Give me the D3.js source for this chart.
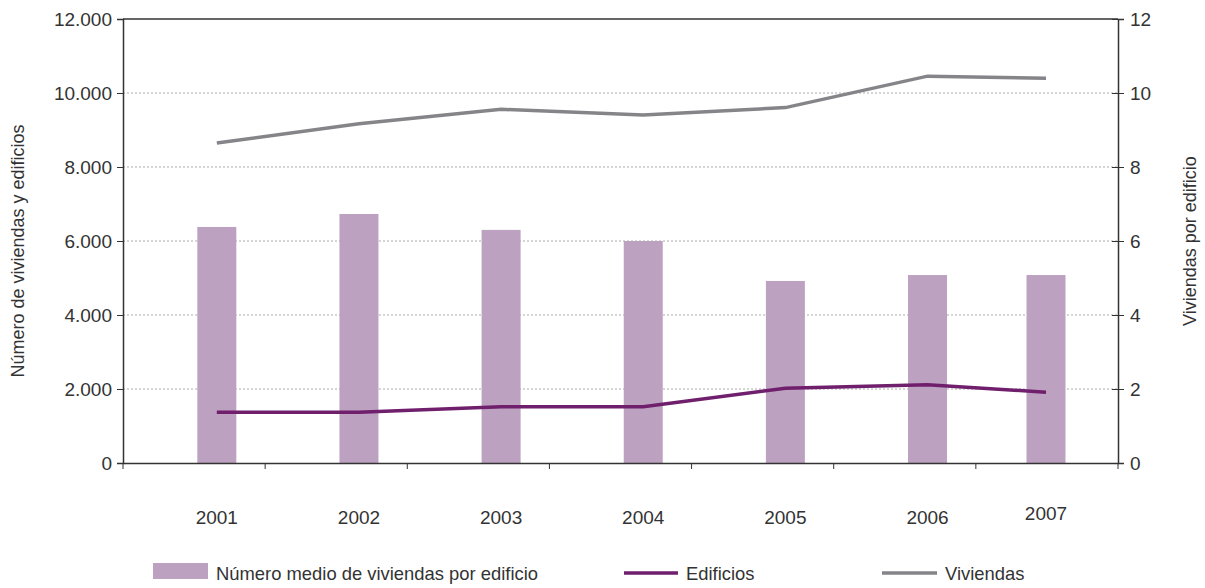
<!DOCTYPE html>
<html><head><meta charset="utf-8">
<script src="https://cdn.jsdelivr.net/npm/d3@7"></script>
<style>body{margin:0;background:#fff}svg{display:block}text{font-family:"Liberation Sans",Arial,sans-serif;fill:#333}</style>
</head><body>
<script>
const years = ["2001","2002","2003","2004","2005","2006","2007"];
const mediaViviendas = [6.38, 6.73, 6.30, 6.00, 4.92, 5.08, 5.08];
const edificios = [1375, 1375, 1520, 1520, 2020, 2115, 1915];
const viviendas = [8650, 9170, 9560, 9405, 9605, 10455, 10400];
const leftTicks = [0, 2000, 4000, 6000, 8000, 10000, 12000];
const rightTicks = [0, 2, 4, 6, 8, 10, 12];
const legendLabels = ["Número medio de viviendas por edificio", "Edificios", "Viviendas"];

const W = 1205, H = 588;
const x0 = 123, x1 = 1118, yTop = 19, yBot = 463;
const svg = d3.select("body").append("svg").attr("width", W).attr("height", H);

const xb = d3.scaleBand().domain(years).range([x0, x1]);
const yL = d3.scaleLinear().domain([0, 12000]).range([yBot, yTop]);
const yR = d3.scaleLinear().domain([0, 12]).range([yBot, yTop]);
const cx = d => Math.min(xb(d) + xb.bandwidth() * 0.66, x1 - 72);
const fmt = d3.formatLocale({decimal: ",", thousands: ".", grouping: [3], currency: ["", "€"]}).format(",d");

const colBar = "#bda1c1", colEd = "#6f1f6c", colViv = "#858488", axisCol = "#333";

// gridlines
svg.append("g").selectAll("line").data(leftTicks.filter(t => t > 0 && t < 12000)).join("line")
  .attr("x1", x0).attr("x2", x1).attr("y1", d => yL(d)).attr("y2", d => yL(d))
  .attr("stroke", "#aaa").attr("stroke-width", 1).attr("stroke-dasharray", "2,2");

// bars
const bw = 39;
svg.append("g").selectAll("rect").data(years).join("rect")
  .attr("x", d => cx(d) - bw / 2).attr("width", bw)
  .attr("y", (d, i) => yR(mediaViviendas[i])).attr("height", (d, i) => yBot - yR(mediaViviendas[i]))
  .attr("fill", colBar);

// lines
const line = (vals) => d3.line().x((d, i) => cx(years[i])).y(d => yL(d))(vals);
svg.append("path").attr("d", line(viviendas)).attr("fill", "none").attr("stroke", colViv).attr("stroke-width", 3.5);
svg.append("path").attr("d", line(edificios)).attr("fill", "none").attr("stroke", colEd).attr("stroke-width", 3.5);

// frame
svg.append("line").attr("x1", x0).attr("x2", x1).attr("y1", yTop).attr("y2", yTop).attr("stroke", axisCol).attr("stroke-width", 1.5);

// left axis
const gL = svg.append("g").attr("transform", `translate(${x0},0)`)
  .call(d3.axisLeft(yL).tickValues(leftTicks).tickFormat(d => fmt(d)).tickSize(6).tickPadding(5));
// right axis
const gR = svg.append("g").attr("transform", `translate(${x1},0)`)
  .call(d3.axisRight(yR).tickValues(rightTicks).tickSize(6).tickPadding(6));
gR.selectAll(".tick").append("line").attr("x2", -6).attr("stroke", axisCol);
// bottom axis
const gB = svg.append("g").attr("transform", `translate(0,${yBot})`)
  .call(d3.axisBottom(xb).tickSize(0).tickFormat(""));
gB.selectAll(".tick").remove();
gB.selectAll("line.b").data(years.concat(["end"])).join("line").attr("class", "b")
  .attr("x1", (d, i) => i < years.length ? xb(d) : x1).attr("x2", (d, i) => i < years.length ? xb(d) : x1)
  .attr("y1", 0).attr("y2", 6).attr("stroke", axisCol);
gB.selectAll("text.yl").data(years).join("text").attr("class", "yl")
  .attr("x", d => cx(d)).attr("y", (d, i) => i === years.length - 1 ? 57 : 61)
  .attr("text-anchor", "middle").style("font-size", "19px").text(d => d);

[gL, gR, gB].forEach(g => {
  g.selectAll(".domain").attr("stroke", axisCol).attr("stroke-width", 1.5);
  g.selectAll(".tick line").attr("stroke", axisCol);
  g.selectAll(".tick text").style("font-size", "19px").attr("fill", "#333");
});

// axis titles
svg.append("text").attr("transform", `translate(24,${(yTop + yBot) / 2 + 10}) rotate(-90)`)
  .attr("text-anchor", "middle").style("font-size", "18px").text("Número de viviendas y edificios");
svg.append("text").attr("transform", `translate(1196,${(yTop + yBot) / 2}) rotate(-90)`)
  .attr("text-anchor", "middle").style("font-size", "18px").text("Viviendas por edificio");

// legend
const lg = svg.append("g");
lg.append("rect").attr("x", 153).attr("y", 563).attr("width", 55).attr("height", 16).attr("fill", colBar);
lg.append("text").attr("x", 216).attr("y", 580).style("font-size", "18.4px").text(legendLabels[0]);
lg.append("line").attr("x1", 624).attr("x2", 678).attr("y1", 573).attr("y2", 573).attr("stroke", colEd).attr("stroke-width", 3.5);
lg.append("text").attr("x", 686).attr("y", 580).style("font-size", "18.4px").text(legendLabels[1]);
lg.append("line").attr("x1", 882).attr("x2", 937).attr("y1", 573).attr("y2", 573).attr("stroke", colViv).attr("stroke-width", 3.5);
lg.append("text").attr("x", 945).attr("y", 580).style("font-size", "18.4px").text(legendLabels[2]);
</script>
</body></html>
